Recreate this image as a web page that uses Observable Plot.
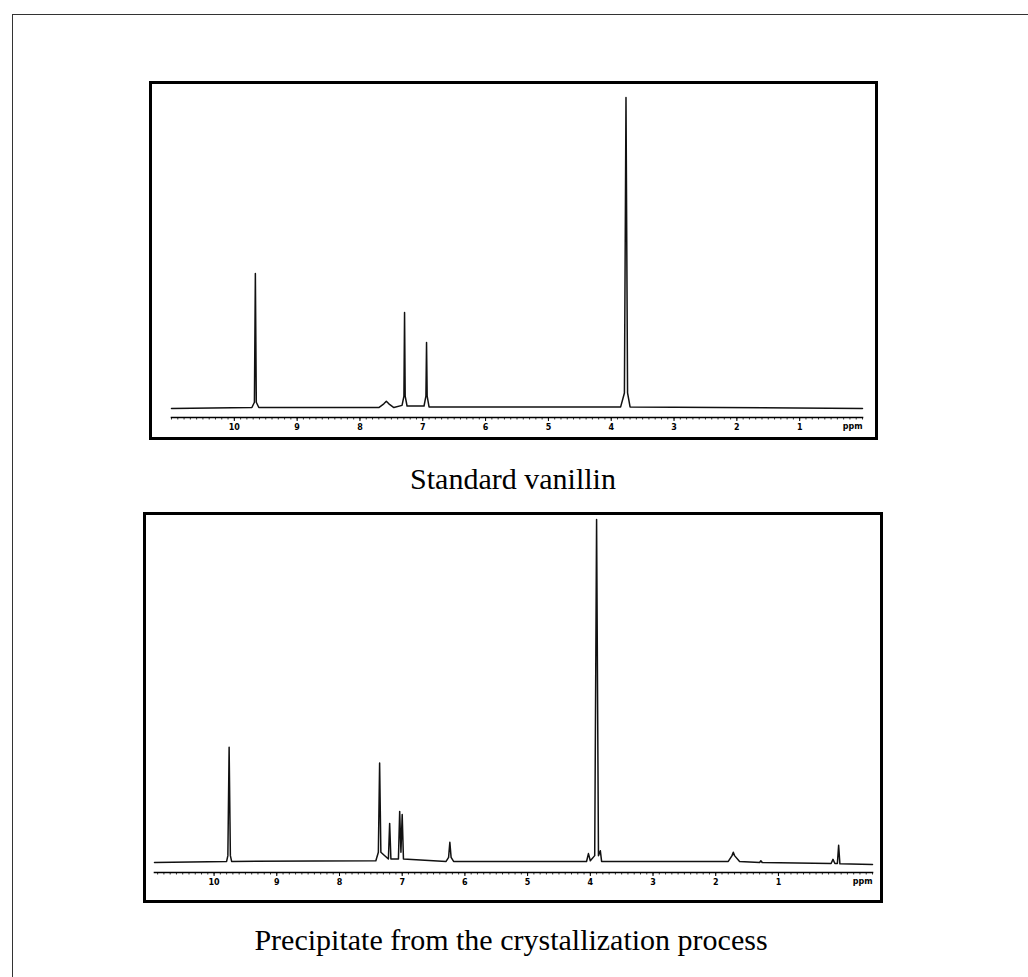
<!DOCTYPE html>
<html>
<head>
<meta charset="utf-8">
<script src="https://cdn.jsdelivr.net/npm/d3@7"></script>
<script src="https://cdn.jsdelivr.net/npm/@observablehq/plot@0.6"></script>
<style>
  html, body { margin: 0; padding: 0; background: #fff; }
  #page { position: relative; width: 1028px; height: 977px; overflow: hidden; background: #fff; }
  #outer { position: absolute; left: 12px; top: 14px; right: -10px; bottom: -10px;
           border-left: 1.5px solid #333; border-top: 1.5px solid #333; }
  .box { position: absolute; box-sizing: border-box; border: 3px solid #000; background: #fff; }
  .box svg { display: block; }
  .cap { position: absolute; font-family: "Liberation Serif", "Times New Roman", serif;
         font-size: 30px; color: #000; white-space: nowrap; transform: translateX(-50%); line-height: 1; }
</style>
</head>
<body>
<div id="page">
  <div id="outer"></div>
  <div class="box" id="top" style="left:149px; top:81px; width:729px; height:359px;"></div>
  <div class="cap" style="left:513px; top:464px;">Standard vanillin</div>
  <div class="box" id="bottom" style="left:143px; top:512px; width:740px; height:391px;"></div>
  <div class="cap" style="left:511px; top:925px;">Precipitate from the crystallization process</div>
</div>
<script>
// ---- Data (chemical shift in ppm, relative intensity) ----
// Standard vanillin 1H NMR trace
const topPpm = [11.0, 9.72, 9.68, 9.665, 9.65, 9.61, 7.70, 7.62, 7.58, 7.54, 7.46, 7.33, 7.30, 7.29, 7.28, 7.25,
                6.98, 6.95, 6.94, 6.93, 6.90, 3.85, 3.79, 3.765, 3.74, 3.70, 0.0];
const topIntensity = [0, 0.3, 2, 43.4, 2, 0.3, 0.3, 1.5, 2.3, 1.5, 0.3, 1, 4, 30.9, 4, 0.8,
                      0.8, 4, 21.2, 4, 0.5, 0.5, 5, 100, 5, 0.5, 0];
// Precipitate from the crystallization process 1H NMR trace
const bottomPpm = [10.95, 9.80, 9.78, 9.76, 9.74, 9.72, 7.42, 7.38, 7.36, 7.34, 7.22, 7.20, 7.18,
                   7.06, 7.04, 7.02, 7.00, 6.98, 6.30, 6.26, 6.24, 6.22, 6.18,
                   4.06, 4.03, 4.00, 3.93, 3.90, 3.87, 3.84, 3.82,
                   1.80, 1.74, 1.72, 1.70, 1.62, 1.30, 1.28, 1.26,
                   0.16, 0.13, 0.10, 0.06, 0.04, 0.02, -0.5];
const bottomIntensity = [0, 0.3, 2, 33.6, 2, 0.3, 0.5, 3, 29.0, 3, 1, 11.4, 1,
                         1, 14.9, 3, 14.0, 1, 0.3, 1.5, 5.9, 1.5, 0.3,
                         0.3, 2.6, 0.5, 2, 100, 2, 3.4, 0.3,
                         0.3, 2, 3.0, 2, 0.3, 0, 0.5, 0,
                         -0.3, 0.9, -0.3, -0.3, 5.0, -0.4, -0.6];
// Axis tick labels
const topTicks = [10, 9, 8, 7, 6, 5, 4, 3, 2, 1];
const bottomTicks = [10, 9, 8, 7, 6, 5, 4, 3, 2, 1];
const unitLabel = "ppm";

function spectrum(el, ppm, inten, opts) {
  const data = ppm.map((p, i) => ({ppm: p, i: inten[i]}));
  const minor = d3.range(Math.ceil(opts.xDomain[1] * 10), Math.floor(opts.xDomain[0] * 10) + 1).map(k => k / 10);
  const plot = Plot.plot({
    width: opts.width,
    height: opts.height,
    marginLeft: opts.ml, marginRight: opts.mr, marginTop: opts.mt, marginBottom: opts.mb,
    style: {background: "#fff", fontFamily: "DejaVu Sans, sans-serif"},
    x: {domain: opts.xDomain, axis: null, label: null},
    y: {domain: opts.yDomain, axis: null, label: null},
    marks: [
      Plot.line(data, {x: "ppm", y: "i", stroke: "#111", strokeWidth: 1.5}),
      Plot.frame({anchor: "bottom", stroke: "#000", strokeWidth: 1.6}),
      Plot.axisX({ticks: minor, tickSize: 2.5, text: null, label: null, stroke: "#000", strokeWidth: 0.8}),
      Plot.axisX({ticks: opts.ticks, tickSize: 4, tickPadding: 3, tickFormat: d => String(d), label: null,
                  fontSize: 8, fontWeight: "bold", fill: "#000", stroke: "#000", strokeWidth: 1}),
      Plot.text([unitLabel], {frameAnchor: "bottom-right", dy: 11, textAnchor: "end",
                  fontSize: 8, fontWeight: "bold", fill: "#000"})
    ]
  });
  el.appendChild(plot);
}

spectrum(document.getElementById("top"), topPpm, topIntensity, {
  width: 723, height: 353, ml: 19, mr: 13, mt: 13, mb: 20,
  xDomain: [11, 0], yDomain: [-2.9, 100], ticks: topTicks
});
spectrum(document.getElementById("bottom"), bottomPpm, bottomIntensity, {
  width: 734, height: 385, ml: 8, mr: 8, mt: 4, mb: 28,
  xDomain: [10.95, -0.5], yDomain: [-2.92, 100], ticks: bottomTicks
});
</script>
</body>
</html>
